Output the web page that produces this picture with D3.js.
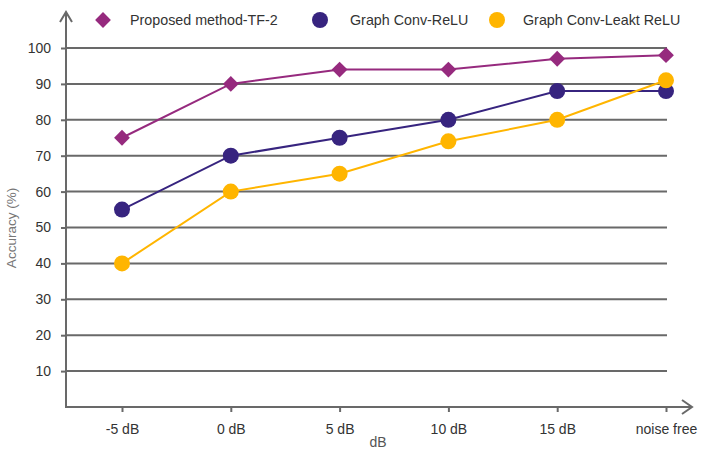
<!DOCTYPE html>
<html><head><meta charset="utf-8">
<script src="https://cdn.jsdelivr.net/npm/d3@7"></script>
<style>body{margin:0;background:#fff}svg{display:block}text{font-family:"Liberation Sans",Arial,sans-serif}</style>
</head><body><svg id="c" width="705" height="455"></svg>
<script>
const categories = ["-5 dB","0 dB","5 dB","10 dB","15 dB","noise free"];
const proposed = [75, 90, 94, 94, 97, 98];
const convRelu = [55, 70, 75, 80, 88, 88];
const convLeaky = [40, 60, 65, 74, 80, 91];
const yTicks = [10,20,30,40,50,60,70,80,90,100];
const seriesNames = ["Proposed method-TF-2","Graph Conv-ReLU","Graph Conv-Leakt ReLU"];
const colors = ["#962a7e","#37247f","#ffb500"];

const svg = d3.select("#c");
const x0 = 66, x1 = 667, yBase = 407;
const x = d3.scalePoint().domain(categories).range([122, 666]);
const y = d3.scaleLinear().domain([0,100]).range([yBase, 48]);
const axisColor = "#696969";

// gridlines
svg.append("g").selectAll("line").data(yTicks).join("line")
  .attr("x1", x0).attr("x2", x1).attr("y1", d=>y(d)).attr("y2", d=>y(d))
  .attr("stroke", axisColor).attr("stroke-width", 2);

// y axis
const ya = svg.append("g").attr("transform", `translate(${x0},0)`)
  .call(d3.axisLeft(y).tickValues(yTicks).tickSize(5).tickPadding(10));
ya.select(".domain").remove();
ya.selectAll("line").attr("stroke", axisColor).attr("stroke-width", 2);
ya.selectAll("text").attr("font-size", 14).attr("fill", "#333");
svg.append("line").attr("x1", x0).attr("x2", x0).attr("y1", 14).attr("y2", yBase+1)
  .attr("stroke", axisColor).attr("stroke-width", 2);
svg.append("path").attr("d", `M${x0-6},${22} L${x0},${12} L${x0+6},${22}`)
  .attr("fill","none").attr("stroke", axisColor).attr("stroke-width", 2);

// x axis
const xa = svg.append("g").attr("transform", `translate(0,${yBase})`)
  .call(d3.axisBottom(x).tickSize(5).tickPadding(12));
xa.select(".domain").remove();
xa.selectAll("line").attr("stroke", axisColor).attr("stroke-width", 2);
xa.selectAll("text").attr("font-size", 14).attr("fill", "#333");
svg.append("line").attr("x1", x0-1).attr("x2", 691).attr("y1", yBase).attr("y2", yBase)
  .attr("stroke", axisColor).attr("stroke-width", 2);
svg.append("path").attr("d", `M682,${yBase-7} L692,${yBase} L682,${yBase+7}`)
  .attr("fill","none").attr("stroke", axisColor).attr("stroke-width", 2);

// axis titles
svg.append("text").attr("x", 378).attr("y", 447).attr("text-anchor","middle")
  .attr("font-size", 14).attr("fill","#555").text("dB");
svg.append("text").attr("transform","translate(16,228) rotate(-90)").attr("text-anchor","middle")
  .attr("font-size", 13.5).attr("fill","#777").text("Accuracy (%)");

// series
const all = [proposed, convRelu, convLeaky];
const line = d3.line().x((d,i)=>x(categories[i])).y(d=>y(d));
all.forEach((vals, si) => {
  svg.append("path").datum(vals).attr("d", line).attr("fill","none")
    .attr("stroke", colors[si]).attr("stroke-width", 2);
});
const diamond = d3.symbol().type(d3.symbolSquare).size(125);
svg.append("g").selectAll("path").data(proposed).join("path")
  .attr("d", diamond())
  .attr("transform", (d,i)=>`translate(${x(categories[i])},${y(d)}) rotate(45)`)
  .attr("fill", colors[0]);
[convRelu, convLeaky].forEach((vals, k) => {
  svg.append("g").selectAll("circle").data(vals).join("circle")
    .attr("cx", (d,i)=>x(categories[i])).attr("cy", d=>y(d)).attr("r", 8)
    .attr("fill", colors[k+1]);
});

// legend
const leg = [{mx:103, tx:130}, {mx:320, tx:350}, {mx:497, tx:523}];
leg.forEach((l, i) => {
  if (i === 0) {
    svg.append("path").attr("d", diamond()).attr("transform", `translate(${l.mx},20) rotate(45)`).attr("fill", colors[0]);
  } else {
    svg.append("circle").attr("cx", l.mx).attr("cy", 20).attr("r", 8).attr("fill", colors[i]);
  }
  svg.append("text").attr("x", l.tx).attr("y", 25).attr("font-size", 14.3).attr("fill","#333").text(seriesNames[i]);
});
</script></body></html>
